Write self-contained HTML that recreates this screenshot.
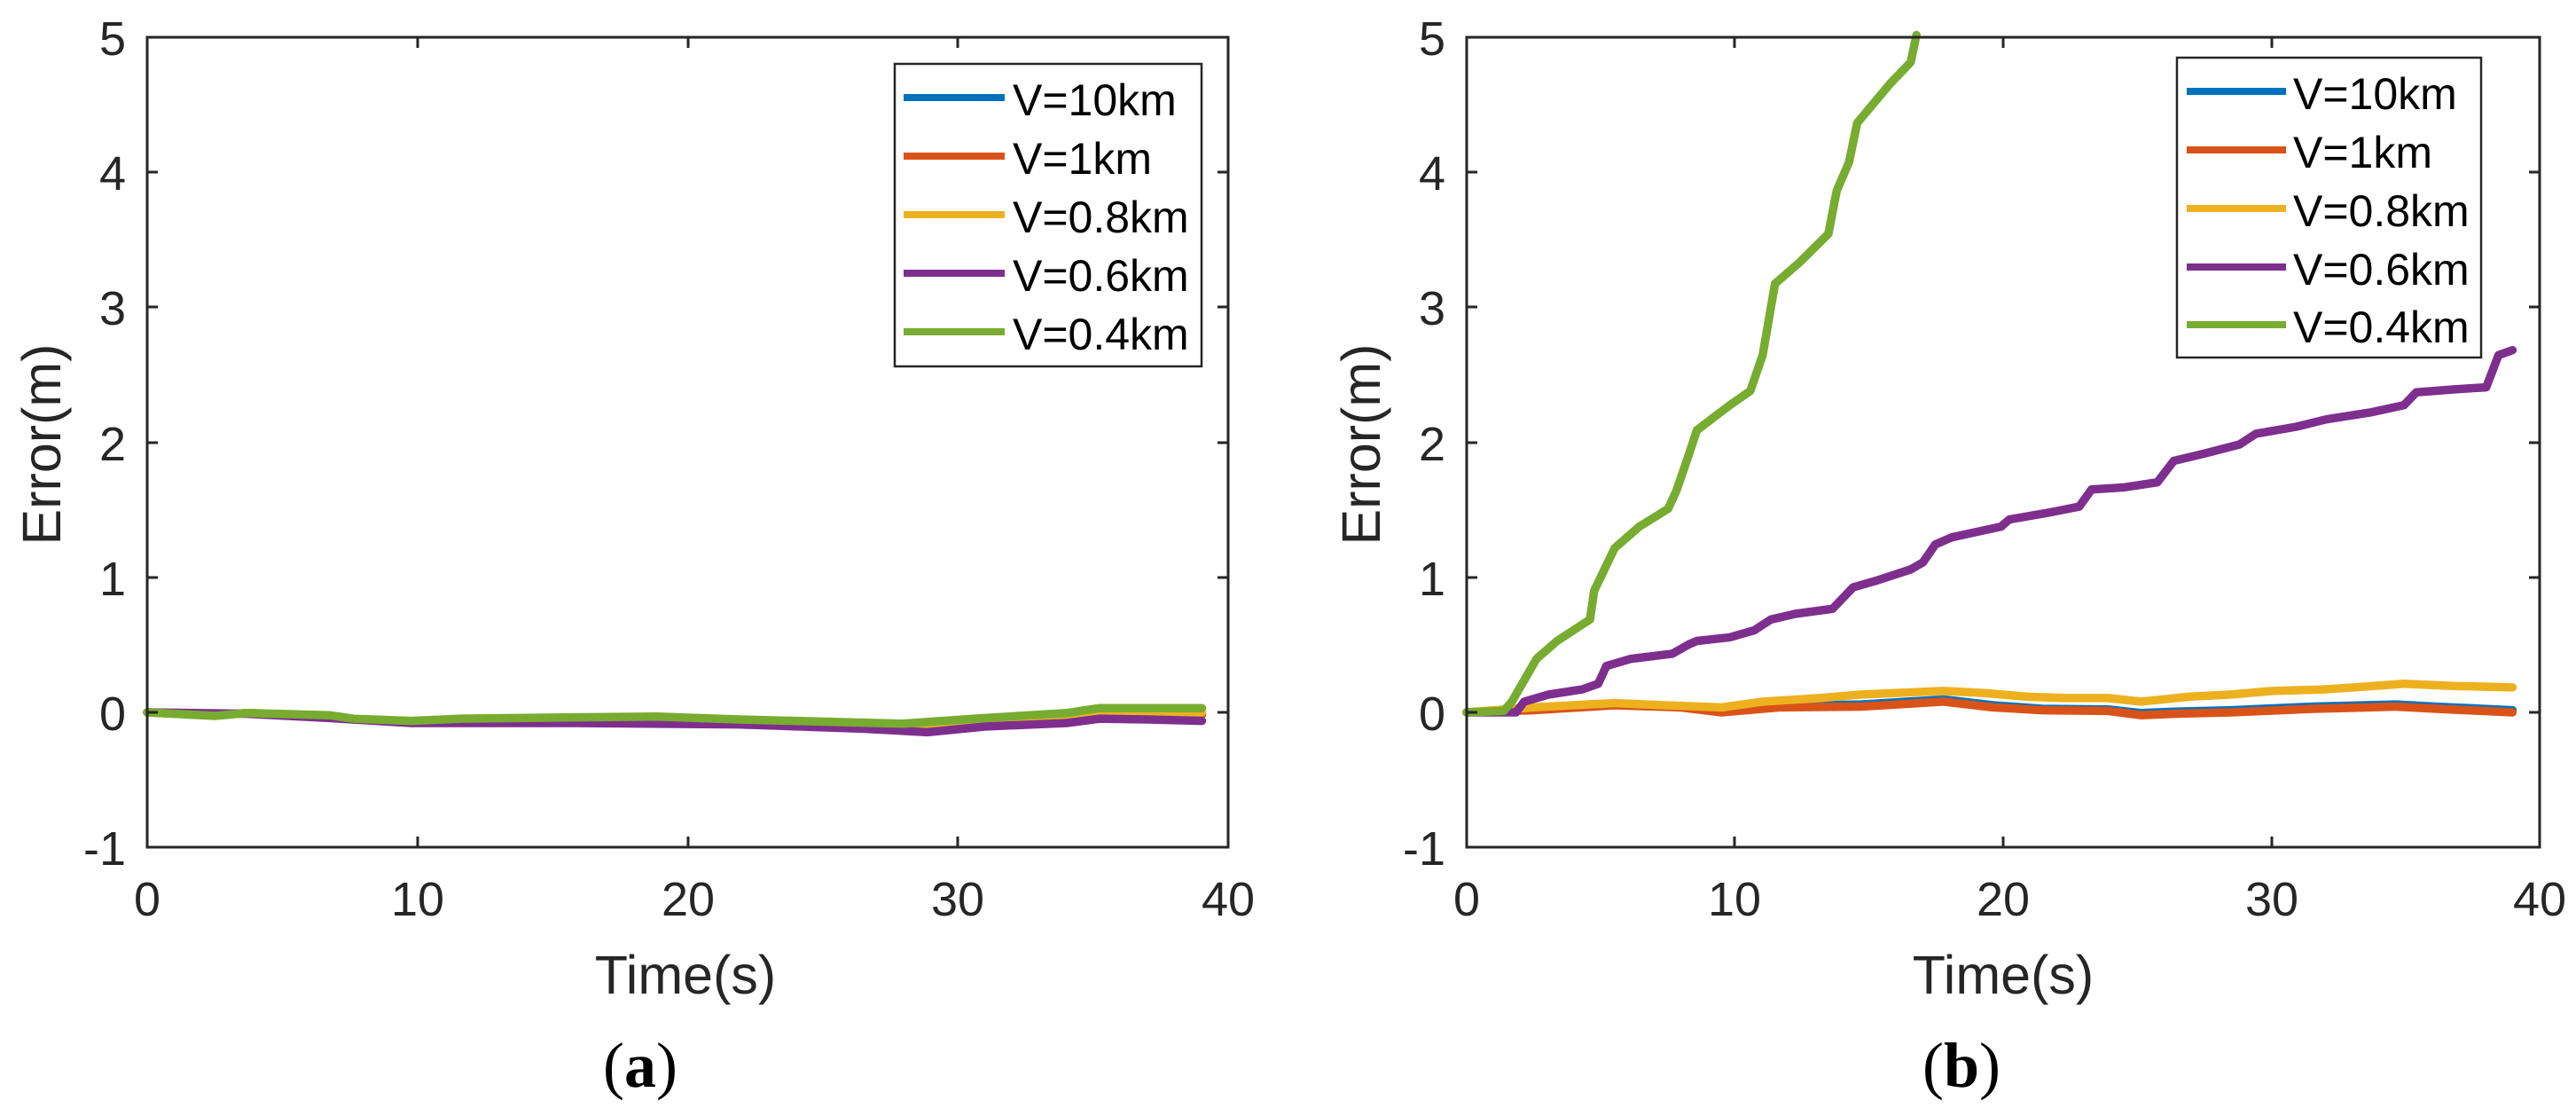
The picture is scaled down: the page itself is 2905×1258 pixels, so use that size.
<!DOCTYPE html>
<html><head><meta charset="utf-8"><style>
html,body{margin:0;padding:0;background:#fff;}
svg{display:block;}
text{font-family:"Liberation Sans",Arial,sans-serif;fill:#262626;}
</style></head><body>
<svg width="2905" height="1258" viewBox="0 0 2905 1258" xmlns="http://www.w3.org/2000/svg">
<rect width="2905" height="1258" fill="#fff"/>

<!-- ============ LEFT PANEL ============ -->
<g fill="none" stroke-linejoin="round" stroke-linecap="round" stroke-width="9.5">
 <g transform="translate(166,803) scale(0.9242,0.7985) translate(-178,-1005)">
  <polyline vector-effect="non-scaling-stroke" stroke="#0072BD" points="178,1005 260,1009 300,1006 400,1011 430,1015 500,1018 560,1016 700,1015 800,1014 900,1018 1000,1022 1100,1025 1200,1018 1300,1012 1340,1006 1400,1006 1465,1008"/>
  <polyline vector-effect="non-scaling-stroke" stroke="#D95319" points="178,1005 260,1009 300,1006 400,1011 430,1015 500,1018 560,1016 700,1015 800,1014 900,1018 1000,1022 1100,1025 1200,1018 1300,1012 1340,1006 1400,1006 1465,1008"/>
  <polyline vector-effect="non-scaling-stroke" stroke="#EDB120" points="178,1005 260,1009 300,1006 400,1011 430,1015 500,1018 560,1015 700,1014 800,1013 900,1017 1000,1021 1100,1023 1200,1016 1300,1010 1340,1003 1400,1004 1465,1005"/>
  <polyline vector-effect="non-scaling-stroke" stroke="#7E2F8E" points="178,1005 300,1007 400,1013 500,1020 700,1020 900,1022 1050,1028 1130,1033 1200,1025 1300,1020 1340,1014 1400,1015 1465,1017"/>
  <polyline vector-effect="non-scaling-stroke" stroke="#77AC30" points="178,1005 260,1010 300,1006 400,1009 430,1014 500,1017 560,1014 700,1012 800,1011 900,1015 1000,1018 1100,1021 1200,1013 1300,1006 1340,999 1400,999 1465,999"/>
 </g>
</g>
<g stroke="#262626" stroke-width="3" fill="none">
 <rect x="166" y="42" width="1219" height="913"/>
 <path d="M166,42h12M166,194h12M166,346h12M166,499h12M166,651h12M166,803h12
          M1385,42h-12M1385,194h-12M1385,346h-12M1385,499h-12M1385,651h-12M1385,803h-12
          M471,955v-12M776,955v-12M1080,955v-12M471,42v12M776,42v12M1080,42v12"/>
</g>
<g font-size="54" text-anchor="end">
 <text x="142" y="62">5</text><text x="142" y="214">4</text><text x="142" y="366">3</text>
 <text x="142" y="519">2</text><text x="142" y="671">1</text><text x="142" y="823">0</text>
 <text x="142" y="975">-1</text>
</g>
<g font-size="54" text-anchor="middle">
 <text x="166" y="1032">0</text><text x="471" y="1032">10</text><text x="776" y="1032">20</text>
 <text x="1080" y="1032">30</text><text x="1385" y="1032">40</text>
</g>
<text x="773" y="1120" font-size="61" text-anchor="middle">Time(s)</text>
<text transform="translate(68,501) rotate(-90)" font-size="61" text-anchor="middle">Error(m)</text>
<text x="722" y="1225" font-size="72" text-anchor="middle" style="font-family:'Liberation Serif',serif;fill:#000">(<tspan font-weight="bold">a</tspan>)</text>
<!-- legend left -->
<rect x="1009" y="72" width="346" height="341" fill="#fff" stroke="#262626" stroke-width="2.5"/>
<g stroke-width="8">
 <line x1="1019" y1="110" x2="1133" y2="110" stroke="#0072BD"/>
 <line x1="1019" y1="176" x2="1133" y2="176" stroke="#D95319"/>
 <line x1="1019" y1="242" x2="1133" y2="242" stroke="#EDB120"/>
 <line x1="1019" y1="308" x2="1133" y2="308" stroke="#7E2F8E"/>
 <line x1="1019" y1="374" x2="1133" y2="374" stroke="#77AC30"/>
</g>
<g font-size="50">
 <text x="1142" y="130" style="fill:#000">V=10km</text>
 <text x="1142" y="196" style="fill:#000">V=1km</text>
 <text x="1142" y="262" style="fill:#000">V=0.8km</text>
 <text x="1142" y="328" style="fill:#000">V=0.6km</text>
 <text x="1142" y="394" style="fill:#000">V=0.4km</text>
</g>

<!-- ============ RIGHT PANEL ============ -->
<g fill="none" stroke-linejoin="round" stroke-linecap="round" stroke-width="9.5">
 <g transform="translate(1654,803) scale(0.9272,0.8053) translate(-220,-1000)">
  <polyline vector-effect="non-scaling-stroke" stroke="#0072BD" points="220,1000 300,996 400,989 480,992 530,998 600,991 700,989 800,982 860,990 920,995 1000,996 1040,1001 1080,999 1150,997 1250,992 1350,989 1400,992 1492,997"/>
  <polyline vector-effect="non-scaling-stroke" stroke="#D95319" points="220,1000 300,997 400,990 480,993 530,1000 600,993 700,992 800,985 860,993 920,997 1000,998 1040,1004 1080,1002 1150,1000 1250,995 1350,992 1400,995 1492,1000"/>
  <polyline vector-effect="non-scaling-stroke" stroke="#EDB120" points="220,1000 300,993 400,987 460,990 530,993 580,985 650,980 700,975 800,970 850,973 900,978 950,980 1000,980 1040,985 1100,978 1150,975 1200,970 1260,968 1300,965 1360,960 1420,963 1492,965"/>
  <polyline vector-effect="non-scaling-stroke" stroke="#7E2F8E" points="220,1000 280,1000 290,985 320,975 360,968 380,960 390,935 420,925 470,918 490,905 500,900 540,895 570,885 590,870 620,862 665,855 690,825 720,815 760,800 775,790 790,765 810,755 850,745 870,740 880,730 930,720 965,712 980,688 1020,685 1060,678 1080,648 1120,637 1160,625 1180,610 1230,600 1265,590 1320,580 1360,570 1375,552 1420,548 1460,545 1475,500 1492,493"/>
  <polyline vector-effect="non-scaling-stroke" stroke="#77AC30" points="220,1000 265,998 275,985 305,925 330,900 370,870 375,830 400,770 430,740 465,715 475,690 490,640 500,605 540,570 565,550 580,500 595,400 625,370 660,330 670,270 685,230 695,175 735,120 760,90 767,52"/>
 </g>
</g>
<g stroke="#262626" stroke-width="3" fill="none">
 <rect x="1654" y="42" width="1210" height="913"/>
 <path d="M1654,42h12M1654,194h12M1654,346h12M1654,499h12M1654,651h12M1654,803h12
          M2864,42h-12M2864,194h-12M2864,346h-12M2864,499h-12M2864,651h-12M2864,803h-12
          M1956,955v-12M2259,955v-12M2562,955v-12M1956,42v12M2259,42v12M2562,42v12"/>
</g>
<g font-size="54" text-anchor="end">
 <text x="1630" y="62">5</text><text x="1630" y="214">4</text><text x="1630" y="366">3</text>
 <text x="1630" y="519">2</text><text x="1630" y="671">1</text><text x="1630" y="823">0</text>
 <text x="1630" y="975">-1</text>
</g>
<g font-size="54" text-anchor="middle">
 <text x="1654" y="1032">0</text><text x="1956" y="1032">10</text><text x="2259" y="1032">20</text>
 <text x="2562" y="1032">30</text><text x="2864" y="1032">40</text>
</g>
<text x="2259" y="1120" font-size="61" text-anchor="middle">Time(s)</text>
<text transform="translate(1556,501) rotate(-90)" font-size="61" text-anchor="middle">Error(m)</text>
<text x="2212" y="1225" font-size="72" text-anchor="middle" style="font-family:'Liberation Serif',serif;fill:#000">(<tspan font-weight="bold">b</tspan>)</text>
<!-- legend right -->
<rect x="2455" y="65" width="343" height="338" fill="#fff" stroke="#262626" stroke-width="2.5"/>
<g stroke-width="8">
 <line x1="2466" y1="103" x2="2578" y2="103" stroke="#0072BD"/>
 <line x1="2466" y1="169" x2="2578" y2="169" stroke="#D95319"/>
 <line x1="2466" y1="235" x2="2578" y2="235" stroke="#EDB120"/>
 <line x1="2466" y1="301" x2="2578" y2="301" stroke="#7E2F8E"/>
 <line x1="2466" y1="366" x2="2578" y2="366" stroke="#77AC30"/>
</g>
<g font-size="50">
 <text x="2586" y="123" style="fill:#000">V=10km</text>
 <text x="2586" y="189" style="fill:#000">V=1km</text>
 <text x="2586" y="255" style="fill:#000">V=0.8km</text>
 <text x="2586" y="321" style="fill:#000">V=0.6km</text>
 <text x="2586" y="386" style="fill:#000">V=0.4km</text>
</g>
</svg>
</body></html>
